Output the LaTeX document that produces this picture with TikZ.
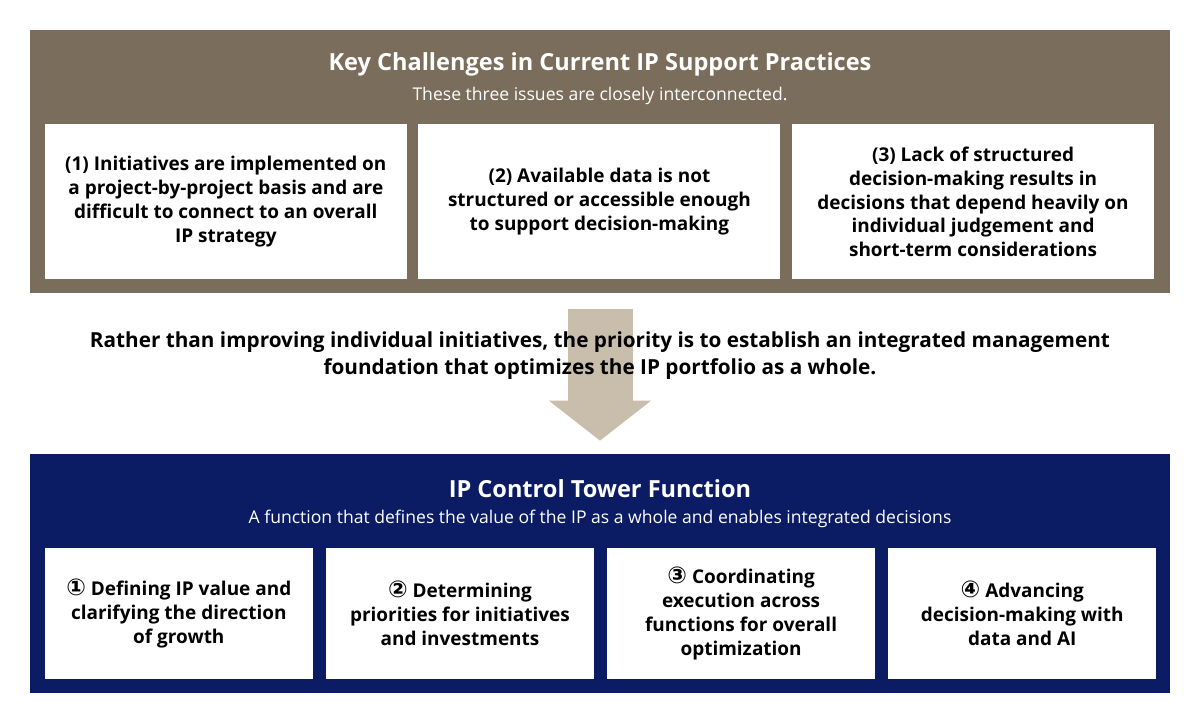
\documentclass[tikz,border=0pt]{standalone}
\usepackage{fontspec}
\setmainfont{Open Sans}
\newfontfamily\circfont{DejaVu Sans}
\usetikzlibrary{arrows.meta,positioning}
\definecolor{panelbrown}{HTML}{7B6D5B}
\definecolor{panelnavy}{HTML}{0C1C64}
\definecolor{arrowbeige}{HTML}{C8BEAB}
\tikzset{
  % outer panels
  panel/.style={rectangle,inner sep=0pt,minimum width=22.8cm},
  % white cards inside the panels
  card/.style={rectangle,fill=white,inner sep=0pt,align=center,
               font=\fontsize{10.8}{13.6}\selectfont\bfseries},
  challenge/.style={card,minimum width=7.24cm,minimum height=3.1cm},
  role/.style={card,minimum width=5.36cm,minimum height=2.62cm},
  paneltitle/.style={text=white,font=\fontsize{13.4}{15}\selectfont\bfseries},
  panelsub/.style={text=white,font=\fontsize{10}{12}\selectfont},
}
\newcommand{\circnum}[1]{{\circfont\fontsize{13.2}{13.6}\selectfont #1}}

\begin{document}
\begin{tikzpicture}[x=0.02cm,y=-0.02cm]
\useasboundingbox (0,0) rectangle (1200,724);
% top panel: the three challenges
\node[panel,fill=panelbrown,minimum height=5.26cm] (challenges) at (600,161.5) {};
\node[paneltitle] (chtitle) at (600,64) {Key Challenges in Current IP Support Practices};
\node[panelsub] (chsub) at (600,96) {These three issues are closely interconnected.};
\node[challenge,anchor=north west] (ch1) at (44.5,124)
  {(1) Initiatives are implemented on\\a project-by-project basis and are\\difficult to connect to an overall\\IP strategy};
\node[challenge,right=0.22cm of ch1] (ch2)
  {(2) Available data is not\\structured or accessible enough\\to support decision-making};
\node[challenge,right=0.22cm of ch2] (ch3)
  {(3) Lack of structured\\decision-making results in\\decisions that depend heavily on\\individual judgement and\\short-term considerations};
% bottom panel: the control tower
\node[panel,fill=panelnavy,minimum height=4.78cm] (tower) at (600,573.5) {};
\draw[arrowbeige,line width=1.3cm,-{Triangle[length=0.8cm,width=2cm]}]
  ([yshift=-0.32cm]challenges.south) -- ([yshift=0.26cm]tower.north);
\node[align=center,font=\fontsize{11.8}{15.4}\selectfont\bfseries] (priority) at (600,356)
  {Rather than improving individual initiatives, the priority is to establish an integrated management\\foundation that optimizes the IP portfolio as a whole.};
\node[paneltitle] (twtitle) at (600,488.5) {IP Control Tower Function};
\node[panelsub] (twsub) at (600,519) {A function that defines the value of the IP as a whole and enables integrated decisions};
\node[role,anchor=north west] (fn1) at (44.5,547.5)
  {\circnum{①} Defining IP value and\\clarifying the direction\\of growth};
\node[role,right=0.25cm of fn1] (fn2)
  {\circnum{②} Determining\\priorities for initiatives\\and investments};
\node[role,right=0.25cm of fn2] (fn3)
  {\circnum{③} Coordinating\\execution across\\functions for overall\\optimization};
\node[role,right=0.25cm of fn3] (fn4)
  {\circnum{④} Advancing\\decision-making with\\data and AI};
\end{tikzpicture}
\end{document}
